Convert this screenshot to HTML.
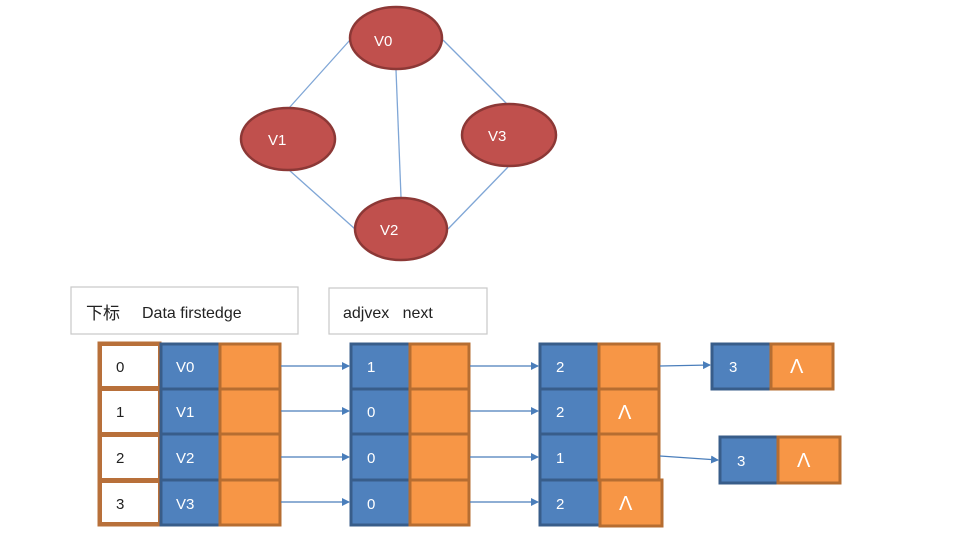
<!DOCTYPE html>
<html><head><meta charset="utf-8"><style>
html,body{margin:0;padding:0;background:#fff;}
svg{display:block}
text{font-family:"Liberation Sans","Noto Sans CJK SC",sans-serif;}
</style></head><body>
<svg width="972" height="543" viewBox="0 0 972 543" xmlns="http://www.w3.org/2000/svg">
<defs>
<marker id="a" markerWidth="8" markerHeight="8" refX="7" refY="4" orient="auto" markerUnits="userSpaceOnUse"><path d="M0,0 L8,4 L0,8 z" fill="#4a7ebb"/></marker>
</defs>
<g stroke="#7fa6d6" stroke-width="1.3">
<line x1="350" y1="40" x2="289" y2="108"/>
<line x1="396" y1="70" x2="401" y2="197"/>
<line x1="443" y1="40" x2="507" y2="104"/>
<line x1="289" y1="170" x2="355" y2="229"/>
<line x1="508" y1="167" x2="448" y2="229"/>
</g>
<g fill="#c0504d" stroke="#8c3836" stroke-width="2.5">
<ellipse cx="396" cy="38" rx="46" ry="31"/>
<ellipse cx="288" cy="139" rx="47" ry="31"/>
<ellipse cx="509" cy="135" rx="47" ry="31"/>
<ellipse cx="401" cy="229" rx="46" ry="31"/>
</g>
<g fill="#fff" font-size="15">
<text x="374" y="46">V0</text>
<text x="268" y="145">V1</text>
<text x="488" y="141">V3</text>
<text x="380" y="235">V2</text>
</g>
<rect x="71" y="287" width="227" height="47" fill="#fff" stroke="#c8c8c8" stroke-width="1.2"/>
<text x="86" y="319" font-size="17" fill="#222">下标</text>
<text x="142" y="318" font-size="16" fill="#222">Data firstedge</text>
<rect x="329" y="288" width="158" height="46" fill="#fff" stroke="#c8c8c8" stroke-width="1.2"/>
<text x="343" y="318" font-size="16" fill="#222">adjvex&#160;&#160;&#160;next</text>
<g stroke-width="3">
<rect x="99" y="343" width="61" height="182" fill="#b8703a" stroke="#b8703a"/>
<g fill="#fff" stroke="none">
<rect x="102" y="346" width="56" height="40"/>
<rect x="102" y="391" width="56" height="41"/>
<rect x="102" y="437" width="56" height="41"/>
<rect x="102" y="483" width="56" height="39"/>
</g>
<g fill="#4f81bd" stroke="#385d8a">
<rect x="161" y="344" width="59" height="45"/>
<rect x="161" y="389" width="59" height="45"/>
<rect x="161" y="434" width="59" height="46"/>
<rect x="161" y="480" width="59" height="45"/>
</g>
<g fill="#f79646" stroke="#b66d31">
<rect x="220" y="344" width="60" height="45"/>
<rect x="220" y="389" width="60" height="45"/>
<rect x="220" y="434" width="60" height="46"/>
<rect x="220" y="480" width="60" height="45"/>
</g>
<g fill="#4f81bd" stroke="#385d8a">
<rect x="351" y="344" width="59" height="45"/>
<rect x="351" y="389" width="59" height="45"/>
<rect x="351" y="434" width="59" height="46"/>
<rect x="351" y="480" width="59" height="45"/>
<rect x="540" y="344" width="59" height="45"/>
<rect x="540" y="389" width="59" height="45"/>
<rect x="540" y="434" width="59" height="46"/>
<rect x="540" y="480" width="60" height="45"/>
<rect x="712" y="344" width="59" height="45"/>
<rect x="720" y="437" width="58" height="46"/>
</g>
<g fill="#f79646" stroke="#b66d31">
<rect x="410" y="344" width="59" height="45"/>
<rect x="410" y="389" width="59" height="45"/>
<rect x="410" y="434" width="59" height="46"/>
<rect x="410" y="480" width="59" height="45"/>
<rect x="599" y="344" width="60" height="45"/>
<rect x="599" y="389" width="60" height="45"/>
<rect x="599" y="434" width="60" height="46"/>
<rect x="600" y="480" width="62" height="46"/>
<rect x="771" y="344" width="62" height="45"/>
<rect x="778" y="437" width="62" height="46"/>
</g>
</g>
<g font-size="15" fill="#222">
<text x="116" y="372">0</text><text x="116" y="417">1</text><text x="116" y="463">2</text><text x="116" y="509">3</text>
</g>
<g font-size="15" fill="#fff">
<text x="176" y="372">V0</text><text x="176" y="417">V1</text><text x="176" y="463">V2</text><text x="176" y="509">V3</text>
<text x="367" y="372">1</text><text x="367" y="417">0</text><text x="367" y="463">0</text><text x="367" y="509">0</text>
<text x="556" y="372">2</text><text x="556" y="417">2</text><text x="556" y="463">1</text><text x="556" y="509">2</text>
<text x="729" y="372">3</text><text x="737" y="466">3</text>
<text x="618" y="419" font-size="20">Λ</text>
<text x="619" y="510" font-size="20">Λ</text>
<text x="790" y="373" font-size="20">Λ</text>
<text x="797" y="467" font-size="20">Λ</text>
</g>
<g stroke="#4a7ebb" stroke-width="1.3" marker-end="url(#a)">
<line x1="281" y1="366" x2="349" y2="366"/>
<line x1="281" y1="411" x2="349" y2="411"/>
<line x1="281" y1="457" x2="349" y2="457"/>
<line x1="281" y1="502" x2="349" y2="502"/>
<line x1="470" y1="366" x2="538" y2="366"/>
<line x1="470" y1="411" x2="538" y2="411"/>
<line x1="470" y1="457" x2="538" y2="457"/>
<line x1="470" y1="502" x2="538" y2="502"/>
<line x1="660" y1="366" x2="710" y2="365"/>
<line x1="660" y1="456" x2="718" y2="460"/>
</g>
</svg>
</body></html>
